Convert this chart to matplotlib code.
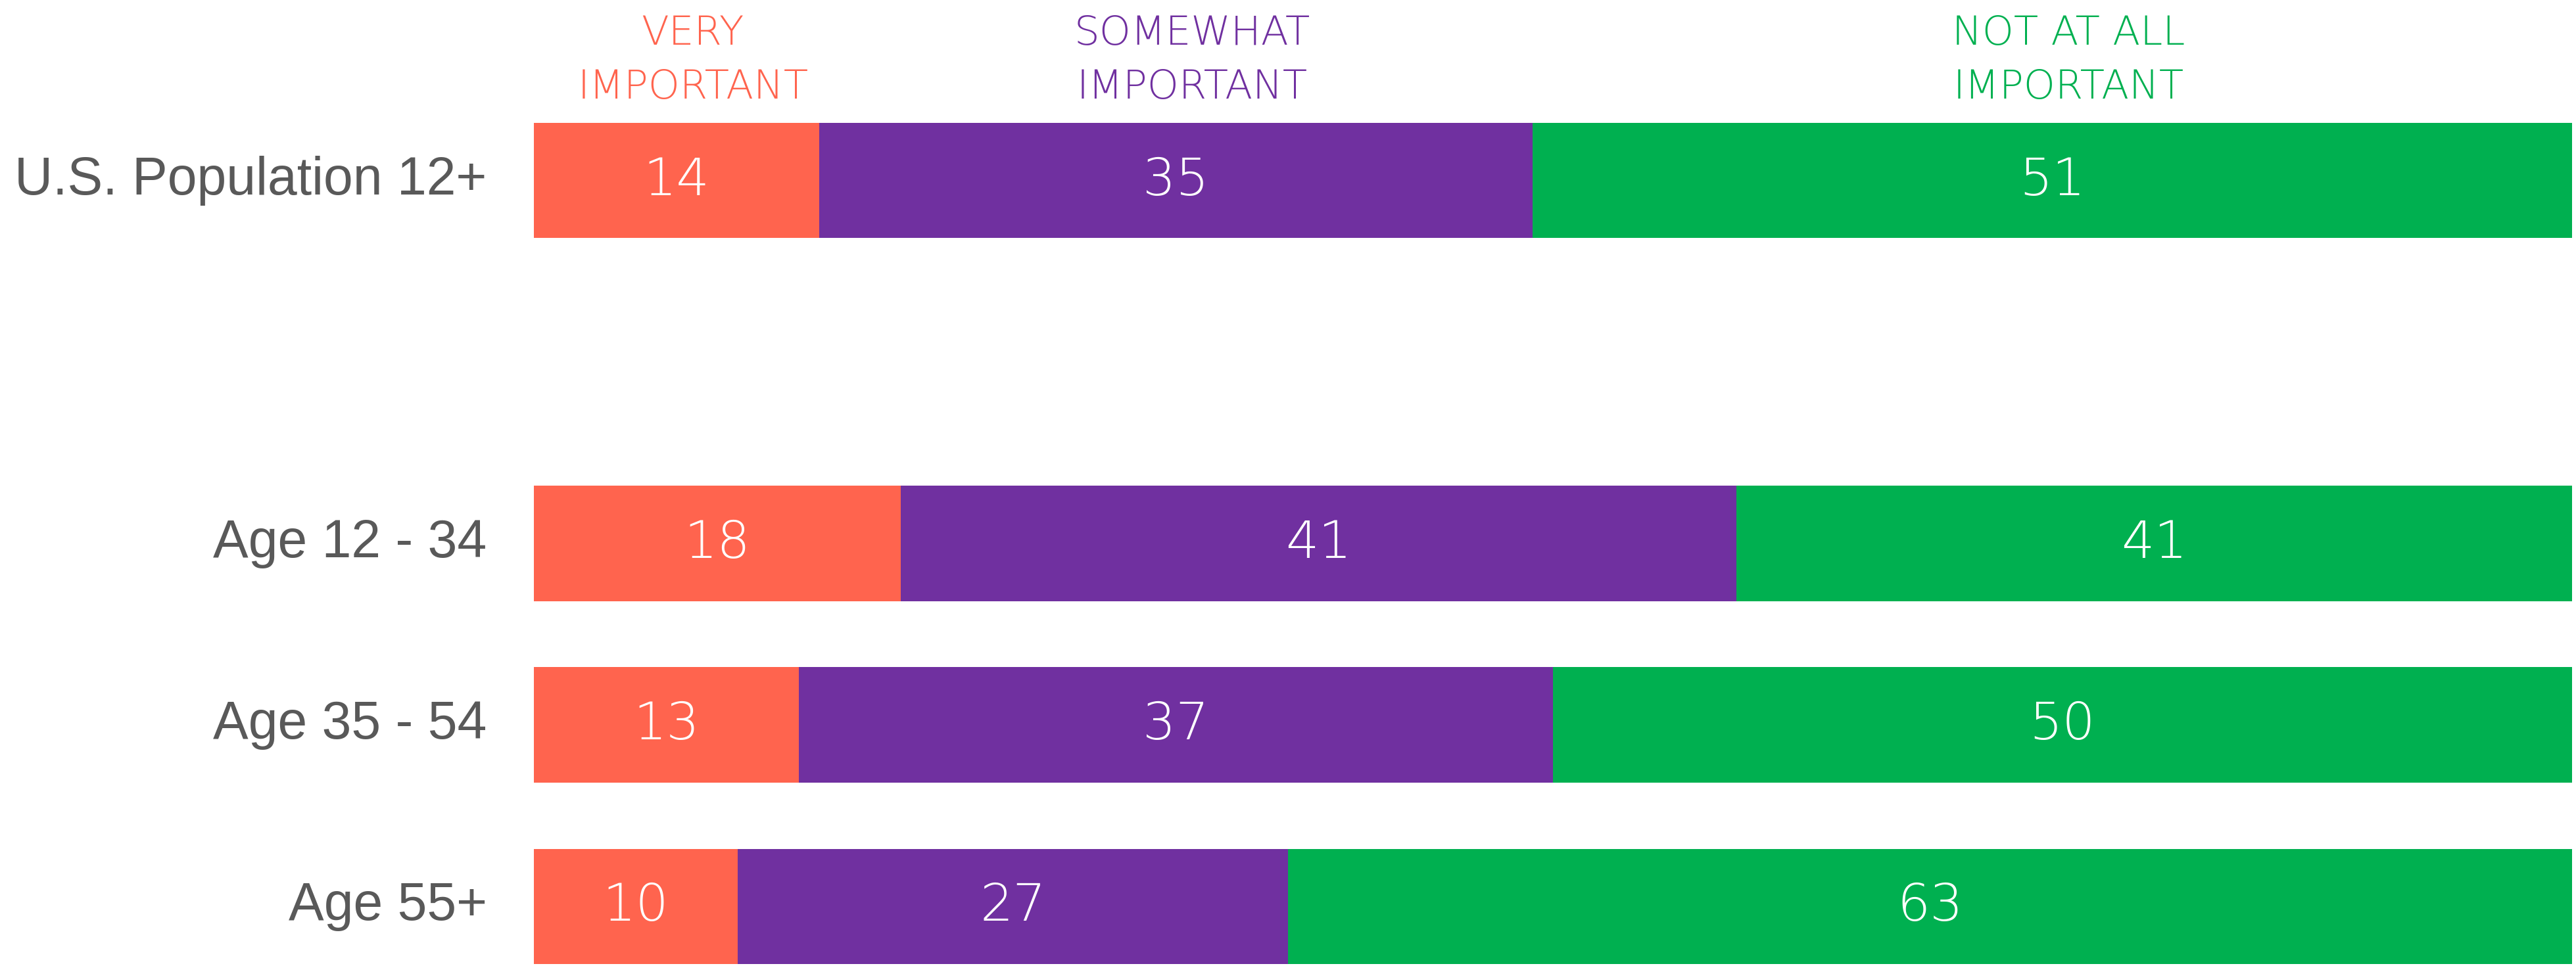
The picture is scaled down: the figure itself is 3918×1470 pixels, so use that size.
import matplotlib.pyplot as plt

groups = ['U.S. Population 12+', 'Age 12 - 34', 'Age 35 - 54', 'Age 55+']
positions = [0, 2, 3, 4]
very = [14, 18, 13, 10]
somewhat = [35, 41, 37, 27]
not_at_all = [51, 41, 50, 63]
headers = ['VERY\nIMPORTANT', 'SOMEWHAT\nIMPORTANT', 'NOT AT ALL\nIMPORTANT']
colors = ['#FF644E', '#7030A0', '#00B050']

W, H = 3918, 1470
fig = plt.figure(figsize=(W / 100, H / 100), dpi=100)
ax = fig.add_axes([812 / W, 0, 3100 / W, 1])

series = [very, somewhat, not_at_all]
left = [0] * len(groups)
for vals, col in zip(series, colors):
    ax.barh(positions, vals, left=left, height=0.635, color=col, edgecolor='none')
    for p, l, v in zip(positions, left, vals):
        ax.text(l + v / 2, p, str(v), ha='center', va='center', color='white',
                fontsize=57, family='DejaVu Sans', fontweight=200)
    left = [a + b for a, b in zip(left, vals)]

# column headers over the top bar's segments (nudged a bit right, as in the original)
start = 0
for vals, col, h in zip(series, colors, headers):
    ax.text(start + vals[0] / 2 + 0.8, -0.66, h, ha='center', va='center', color=col,
            fontsize=44, family='DejaVu Sans', fontweight=200, linespacing=1.5,
            clip_on=False)
    start += vals[0]

for p, g in zip(positions, groups):
    ax.text(-2.3, p, g, ha='right', va='center', color='#595959',
            fontsize=58, family='Liberation Sans', clip_on=False)

ax.set_xlim(0, 100)
ax.set_ylim(4.328, -0.994)
ax.axis('off')

fig.savefig('out.png', dpi=100)
